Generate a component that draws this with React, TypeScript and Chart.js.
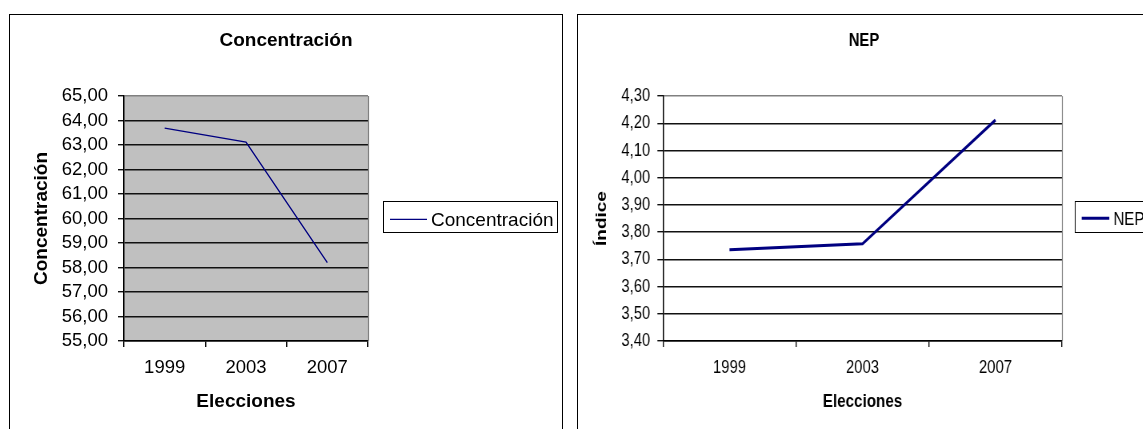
import React, { useEffect, useRef } from 'react';
import { Chart, registerables } from 'chart.js';

Chart.register(...registerables);

const categories = ['1999', '2003', '2007'];
const concentracionValues = [63.69, 63.12, 58.2];
const nepValues = [3.735, 3.757, 4.212];
const concentracionTicks = [55, 56, 57, 58, 59, 60, 61, 62, 63, 64, 65];
const nepTicks = [3.4, 3.5, 3.6, 3.7, 3.8, 3.9, 4.0, 4.1, 4.2, 4.3];

const NAVY = '#000080';
const SANS = "'Liberation Sans', Arial, sans-serif";

const fmt = (v: number) => v.toFixed(2).replace('.', ',');

const plotDecor = {
  id: 'plotDecor',
  beforeDraw(chart: any, _a: any, opts: any) {
    const { ctx, chartArea: ca } = chart;
    ctx.save();
    ctx.fillStyle = opts.bg;
    ctx.fillRect(ca.left, ca.top, ca.right - ca.left, ca.bottom - ca.top);
    ctx.restore();
  },
  afterDraw(chart: any, _a: any, opts: any) {
    const { ctx, chartArea: ca } = chart;
    ctx.save();
    ctx.strokeStyle = '#808080';
    ctx.lineWidth = 1.2;
    ctx.beginPath();
    ctx.moveTo(Math.round(ca.right) + 0.5, ca.top);
    ctx.lineTo(Math.round(ca.right) + 0.5, ca.bottom);
    ctx.stroke();
    // legend
    const ds = chart.data.datasets[0];
    const x = ca.right + opts.gap;
    const y = opts.top;
    ctx.strokeStyle = '#000';
    ctx.lineWidth = 1;
    ctx.strokeRect(Math.round(x) + 0.5, Math.round(y) + 0.5, opts.width, opts.height);
    ctx.strokeStyle = ds.borderColor;
    ctx.lineWidth = ds.borderWidth;
    ctx.beginPath();
    ctx.moveTo(x + opts.lineStart, y + opts.lineY);
    ctx.lineTo(x + opts.lineStart + opts.lineLen, y + opts.lineY);
    ctx.stroke();
    ctx.fillStyle = '#000';
    ctx.font = opts.font;
    ctx.textBaseline = 'alphabetic';
    ctx.textAlign = 'left';
    ctx.fillText(ds.label, x + opts.textStart, y + opts.baseline);
    ctx.restore();
  },
};

function buildConfig(p: any): any {
  const top = p.ticks[p.ticks.length - 1];
  return {
    type: 'line',
    data: {
      labels: categories,
      datasets: [
        {
          label: p.label,
          data: p.values,
          yAxisID: 'y',
          xAxisID: 'x',
          borderColor: NAVY,
          backgroundColor: NAVY,
          borderWidth: p.lineWidth,
          pointRadius: 0,
          pointHoverRadius: 0,
          tension: 0,
          fill: false,
        },
      ],
    },
    options: {
      responsive: false,
      maintainAspectRatio: false,
      animation: false,
      devicePixelRatio: 1,
      layout: { padding: 0 },
      plugins: {
        legend: { display: false },
        tooltip: { enabled: false },
        title: {
          display: true,
          text: p.title,
          color: '#000',
          font: { family: SANS, size: p.titleSize, weight: 'bold', lineHeight: 1.2 },
          padding: { top: p.titlePadTop, bottom: p.titlePadBottom },
        },
        plotDecor: p.decor,
      },
      scales: {
        y: {
          type: 'linear',
          position: 'left',
          min: p.ticks[0],
          max: top,
          afterFit: (s: any) => {
            s.width = p.yWidth;
          },
          afterBuildTicks: (s: any) => {
            s.ticks = p.ticks.map((v: number) => ({ value: v }));
          },
          grid: {
            color: (c: any) =>
              c.tick && Math.abs(c.tick.value - top) < 1e-9 ? '#808080' : '#111',
            tickColor: '#111',
            lineWidth: 1.4,
            drawTicks: true,
            tickLength: p.yTickLen,
          },
          border: { display: true, color: '#000', width: 1.5 },
          ticks: {
            color: '#000',
            padding: p.yTickPad,
            autoSkip: false,
            font: { family: SANS, size: p.tickSize, lineHeight: 1.2 },
            callback: (v: any) => fmt(Number(v)),
          },
          title: {
            display: true,
            text: p.yTitle,
            color: '#000',
            font: { family: SANS, size: p.axisTitleSize, weight: 'bold', lineHeight: 1.2 },
            padding: { top: p.yTitlePad, bottom: 0 },
          },
        },
        legendSpace: {
          type: 'linear',
          position: 'right',
          display: true,
          afterFit: (s: any) => {
            s.width = p.rightSpace;
          },
          grid: { display: false, drawOnChartArea: false, drawTicks: false },
          border: { display: false },
          ticks: { display: false },
          title: { display: false },
        },
        x: {
          type: 'category',
          position: 'bottom',
          offset: true,
          afterFit: (s: any) => {
            s.height = p.xHeight;
          },
          grid: {
            offset: true,
            drawOnChartArea: false,
            drawTicks: true,
            tickLength: 6,
            lineWidth: 1.4,
            color: '#111',
            tickColor: '#111',
          },
          border: { display: true, color: '#000', width: 1.5 },
          ticks: {
            color: '#000',
            padding: p.xTickPad,
            maxRotation: 0,
            font: { family: SANS, size: p.tickSize, lineHeight: 1.2 },
          },
          title: {
            display: true,
            text: 'Elecciones',
            color: '#000',
            font: { family: SANS, size: p.axisTitleSize, weight: 'bold', lineHeight: 1.2 },
            padding: { top: 0, bottom: p.xTitlePad },
          },
        },
      },
    },
    plugins: [plotDecor],
  };
}

function ChartBox(props: { left: number; width: number; scaleX: number; params: any }) {
  const ref = useRef<HTMLCanvasElement | null>(null);
  const canvasWidth = Math.round(props.width / props.scaleX);
  useEffect(() => {
    if (!ref.current) return;
    const chart = new Chart(ref.current, buildConfig(props.params));
    return () => chart.destroy();
  }, []);
  return (
    <div
      style={{
        position: 'absolute',
        left: props.left,
        top: 14,
        width: props.width,
        height: 420,
        border: '1px solid #000',
        background: '#fff',
        overflow: 'hidden',
      }}
    >
      <div
        style={{
          width: canvasWidth,
          height: 414,
          transform: `scaleX(${props.scaleX})`,
          transformOrigin: '0 0',
        }}
      >
        <canvas ref={ref} width={canvasWidth} height={414} style={{ display: 'block' }} />
      </div>
    </div>
  );
}

const leftParams = {
  label: 'Concentración',
  title: 'Concentración',
  yTitle: 'Concentración',
  values: concentracionValues,
  ticks: concentracionTicks,
  lineWidth: 1.3,
  tickSize: 18.5,
  titleSize: 19,
  axisTitleSize: 19,
  titlePadTop: 14.6,
  titlePadBottom: 43.6,
  rightSpace: 194,
  yWidth: 114,
  yTickLen: 6,
  yTickPad: 10,
  yTitlePad: 20.6,
  xHeight: 88,
  xTickPad: 10.2,
  xTitlePad: 15.9,
  decor: {
    bg: '#C0C0C0',
    gap: 15,
    top: 185.7,
    width: 174,
    height: 31,
    lineStart: 7,
    lineLen: 37,
    lineY: 18.6,
    textStart: 48,
    baseline: 25.3,
    font: `19px ${SANS}`,
  },
};

const rightParams = {
  label: 'NEP',
  title: 'NEP',
  yTitle: 'Índice',
  values: nepValues,
  ticks: nepTicks,
  lineWidth: 3,
  tickSize: 18.5,
  titleSize: 18.5,
  axisTitleSize: 19,
  titlePadTop: 14.9,
  titlePadBottom: 44,
  rightSpace: 110,
  yWidth: 106.25,
  yTickLen: 7,
  yTickPad: 9,
  yTitlePad: 18.6,
  xHeight: 88,
  xTickPad: 10.2,
  xTitlePad: 15.9,
  decor: {
    bg: '#FFFFFF',
    gap: 16.25,
    top: 185.7,
    width: 90,
    height: 31,
    lineStart: 8.4,
    lineLen: 34.5,
    lineY: 17.6,
    textStart: 47.9,
    baseline: 24.3,
    font: `19px ${SANS}`,
  },
};

export default function App() {
  return (
    <div
      style={{
        position: 'absolute',
        left: 0,
        top: 0,
        width: 1143,
        height: 429,
        overflow: 'hidden',
        background: '#fff',
      }}
    >
      <ChartBox left={9} width={552} scaleX={1} params={leftParams} />
      <ChartBox left={577} width={572} scaleX={0.8} params={rightParams} />
    </div>
  );
}
